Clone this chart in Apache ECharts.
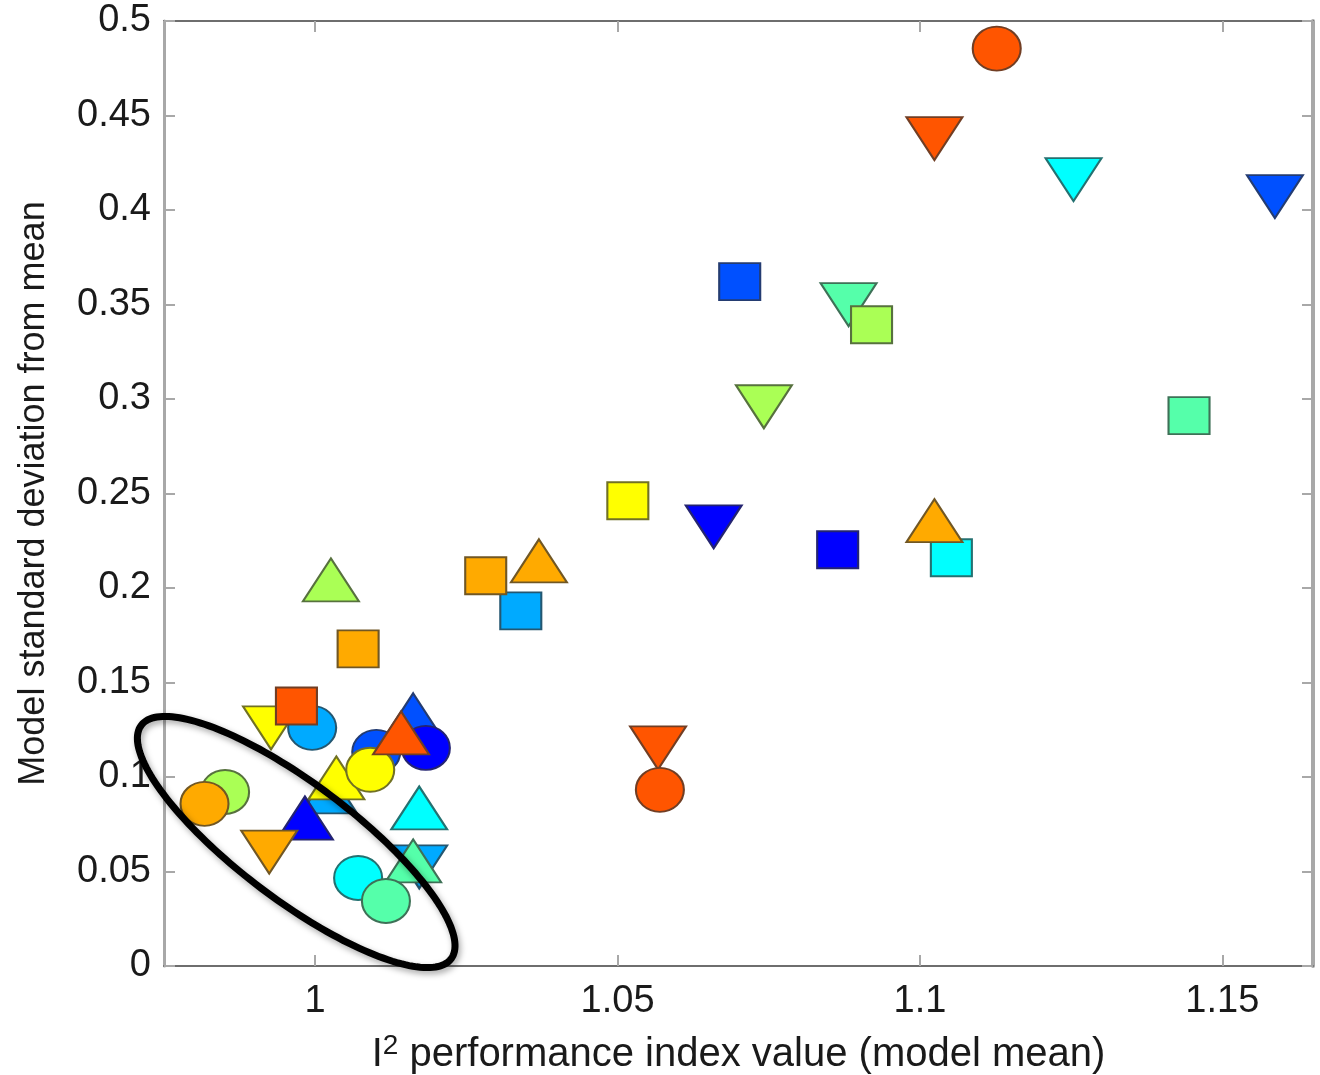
<!DOCTYPE html>
<html>
<head>
<meta charset="utf-8">
<script src="https://cdn.jsdelivr.net/npm/echarts@6/dist/echarts.min.js"></script>
<style>
html,body{margin:0;padding:0;background:#fff;}
#chart{width:1320px;height:1075px;}
</style>
</head>
<body>
<div id="chart"></div>
<script>
// ---- data (draw order matters for overlaps) ----
const colorNames = ['blue', 'blue2', 'azure', 'cyan', 'seagreen', 'lightgreen', 'yellow', 'orange', 'orangered'];
const pointShape = [
  'down','circle','square','up','circle','circle','up','up','circle','up',
  'up','down','circle','circle','up','down','up','circle','circle',
  'up','square','square','square','up','square','down','down','circle',
  'square','down','square','down','square','square','up','down','circle','down','down','square'
];
const pointColor = [
  6,2,8,1,0,1,2,6,6,8,
  0,7,5,7,3,2,4,3,4,
  5,7,2,7,7,6,0,8,8,
  1,5,0,4,5,3,7,8,8,3,1,4
];
const pointX = [
  0.9927,0.9995,0.9969,1.0162,1.0183,1.0101,1.0023,1.0035,1.0091,1.0142,
  0.9983,0.9924,0.9851,0.9817,1.0172,1.0172,1.0162,1.0071,1.0117,
  1.0026,1.0071,1.0340,1.0282,1.0370,1.0517,1.0659,1.0567,1.0570,
  1.0702,1.0742,1.0864,1.0882,1.0920,1.1052,1.1024,1.1024,1.1127,1.1254,1.1587,1.1445
];
const pointY = [
  0.1260,0.1260,0.1376,0.1329,0.1154,0.1133,0.0921,0.0995,0.1038,0.1233,
  0.0783,0.0603,0.0921,0.0858,0.0836,0.0524,0.0556,0.0466,0.0344,
  0.2043,0.1678,0.1879,0.2065,0.2144,0.2462,0.2324,0.1154,0.0932,
  0.3621,0.2959,0.2202,0.3499,0.3393,0.2160,0.2356,0.4378,0.4854,0.4161,0.4071,0.2912
];
const xRange = [0.975, 1.165];
const yRange = [0, 0.5];
const yStep = 0.05;
const xTitle = ['I', '2', ' performance index value (model mean)'];
const yTitle = 'Model standard deviation from mean';
// annotation ellipse: centre in data units
const ellipseCentre = [0.99686, 0.0656];

// ---- styles ----
const palette = {
  blue:'#0000FF', blue2:'#0050FF', azure:'#00AAFF', cyan:'#00FFFF', seagreen:'#55FFAA',
  lightgreen:'#AAFF55', yellow:'#FFFF00', orange:'#FFAA00', orangered:'#FF5500'
};
function edgeOf(hex){
  const n = parseInt(hex.slice(1),16);
  const r=(n>>16)&255,g=(n>>8)&255,b=n&255, d=52, k=0.3;
  const f=v=>Math.round(v*k+d*(1-k));
  return 'rgb('+f(r)+','+f(g)+','+f(b)+')';
}
const ellipsePath = 'path://M0,50A50,50,0,1,1,100,50A50,50,0,1,1,0,50Z';
const shapeStyle = {
  circle: {symbol: ellipsePath, size: [48,44], rotate: 0},
  square: {symbol: 'rect', size: [41,37], rotate: 0},
  up: {symbol: 'triangle', size: [56,43], rotate: 0},
  down: {symbol: 'triangle', size: [56,43], rotate: 180}
};

const seriesData = pointX.map((x,i)=>{
  const s = shapeStyle[pointShape[i]];
  const fill = palette[colorNames[pointColor[i]]];
  return {
    value:[x, pointY[i]],
    symbol:s.symbol, symbolSize:s.size, symbolRotate:s.rotate,
    itemStyle:{color:fill, borderColor:edgeOf(fill), borderWidth:2, opacity:1}
  };
});

const font = '"Liberation Sans", Arial, Helvetica, sans-serif';
const chart = echarts.init(document.getElementById('chart'));
const tickStyle = {show:true, inside:true, length:11, lineStyle:{color:'#a8a8a8', width:2}};
chart.setOption({
  animation:false,
  backgroundColor:'#fff',
  grid:{left:164, right:7, top:21, bottom:109, containLabel:false, outerBoundsMode:'none'},
  xAxis:[{
    type:'value', min:xRange[0], max:xRange[1], splitNumber:4, minInterval:0.05, maxInterval:0.05,
    position:'bottom',
    axisLine:{show:true, onZero:false, lineStyle:{color:'#6e6e6e', width:2}},
    axisTick:tickStyle,
    splitLine:{show:false},
    axisLabel:{show:true, showMinLabel:false, showMaxLabel:false, margin:17, color:'#1a1a1a', fontSize:38, fontFamily:font},
    name:'{i|'+xTitle[0]+'}{s|'+xTitle[1]+'}{i|'+xTitle[2]+'}',
    nameLocation:'middle', nameGap:66,
    nameTextStyle:{rich:{
      i:{fontSize:40, fontFamily:font, color:'#1a1a1a', lineHeight:46},
      s:{fontSize:28, fontFamily:font, color:'#1a1a1a', verticalAlign:'top', lineHeight:40}
    }}
  },{
    type:'value', min:xRange[0], max:xRange[1], splitNumber:4, minInterval:0.05, maxInterval:0.05,
    position:'top',
    axisLine:{show:true, onZero:false, lineStyle:{color:'#6e6e6e', width:2}},
    axisTick:tickStyle, splitLine:{show:false}, axisLabel:{show:false}
  }],
  yAxis:[{
    type:'value', min:yRange[0], max:yRange[1], interval:yStep,
    position:'left',
    axisLine:{show:true, onZero:false, lineStyle:{color:'#a8a8a8', width:3}},
    axisTick:tickStyle, splitLine:{show:false},
    axisLabel:{margin:13, color:'#1a1a1a', fontSize:38, fontFamily:font},
    name:yTitle, nameLocation:'middle', nameGap:112,
    nameTextStyle:{fontSize:36, fontFamily:font, color:'#1a1a1a'}
  },{
    type:'value', min:yRange[0], max:yRange[1], interval:yStep,
    position:'right',
    axisLine:{show:true, onZero:false, lineStyle:{color:'#a8a8a8', width:4}},
    axisTick:tickStyle, splitLine:{show:false}, axisLabel:{show:false}
  }],
  series:[{
    type:'scatter', xAxisIndex:0, yAxisIndex:0,
    data:seriesData, z:3
  }]
});

// annotation ellipse (pixel geometry around a data-space centre)
const c = chart.convertToPixel({xAxisIndex:0, yAxisIndex:0}, ellipseCentre);
const a = 194, b = 58, ang = 37*Math.PI/180;
const pts = [];
for (let k=0;k<180;k++){
  const t = k/180*2*Math.PI;
  const ex = a*Math.cos(t), ey = b*Math.sin(t);
  pts.push([c[0] + ex*Math.cos(ang) - ey*Math.sin(ang), c[1] + ex*Math.sin(ang) + ey*Math.cos(ang)]);
}
chart.setOption({
  graphic:[{
    type:'polygon', z:100,
    shape:{points:pts},
    style:{fill:'none', stroke:'#000', lineWidth:7, shadowBlur:6, shadowColor:'rgba(0,0,0,0.35)', shadowOffsetX:2, shadowOffsetY:3}
  }]
});
</script>
</body>
</html>
